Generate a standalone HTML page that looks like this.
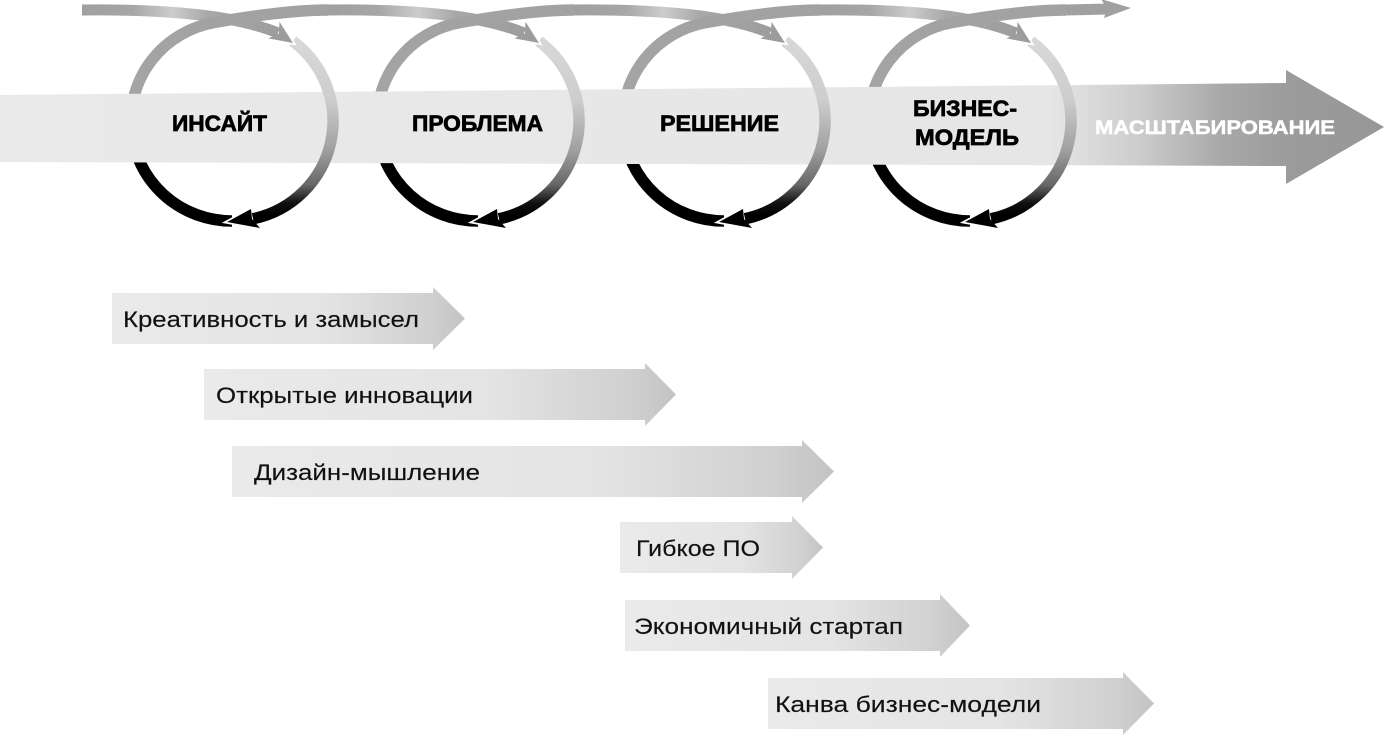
<!DOCTYPE html>
<html>
<head>
<meta charset="utf-8">
<style>
  html,body{margin:0;padding:0;background:#fff;}
  svg{display:block;}
  .lbl{font-family:"Liberation Sans","DejaVu Sans",sans-serif;font-weight:bold;fill:#000;stroke:#000;stroke-width:0.7px;}
  .lblw{font-family:"Liberation Sans","DejaVu Sans",sans-serif;font-weight:bold;fill:#fff;stroke:#fff;stroke-width:0.5px;}
  .sub{font-family:"Liberation Sans","DejaVu Sans",sans-serif;fill:#111;stroke:#111;stroke-width:0.15px;}
</style>
</head>
<body>
<svg width="1385" height="737" viewBox="0 0 1385 737" xmlns="http://www.w3.org/2000/svg" xmlns:xlink="http://www.w3.org/1999/xlink">
  <defs>
    <linearGradient id="gL" gradientUnits="userSpaceOnUse" x1="0" y1="0" x2="0" y2="230">
      <stop offset="0" stop-color="#a2a2a2"/>
      <stop offset="0.413" stop-color="#a4a4a4"/>
      <stop offset="0.696" stop-color="#000"/>
      <stop offset="1" stop-color="#000"/>
    </linearGradient>
    <linearGradient id="gD" gradientUnits="userSpaceOnUse" x1="-150" y1="0" x2="50" y2="0">
      <stop offset="0" stop-color="#a0a0a0"/>
      <stop offset="0.25" stop-color="#a6a6a6"/>
      <stop offset="0.45" stop-color="#cccccc"/>
      <stop offset="0.63" stop-color="#a8a8a8"/>
      <stop offset="1" stop-color="#9c9c9c"/>
    </linearGradient>
    <linearGradient id="gR" gradientUnits="userSpaceOnUse" x1="0" y1="40" x2="0" y2="215">
      <stop offset="0" stop-color="#d8d8d8"/>
      <stop offset="0.343" stop-color="#cdcdcd"/>
      <stop offset="0.629" stop-color="#a0a0a0"/>
      <stop offset="0.829" stop-color="#666"/>
      <stop offset="0.931" stop-color="#111"/>
      <stop offset="1" stop-color="#000"/>
    </linearGradient>
    <linearGradient id="gBand" gradientUnits="userSpaceOnUse" x1="0" y1="0" x2="1385" y2="0">
      <stop offset="0" stop-color="#e9e9e9"/>
      <stop offset="0.758" stop-color="#e6e6e6"/>
      <stop offset="0.823" stop-color="#cccccc"/>
      <stop offset="0.881" stop-color="#a9a9a9"/>
      <stop offset="0.931" stop-color="#9b9b9b"/>
      <stop offset="1" stop-color="#979797"/>
    </linearGradient>
    <linearGradient id="gArr" x1="0" y1="0" x2="1" y2="0">
      <stop offset="0" stop-color="#eaeaea"/>
      <stop offset="0.6" stop-color="#e4e4e4"/>
      <stop offset="0.9" stop-color="#d0d0d0"/>
      <stop offset="1" stop-color="#c3c3c3"/>
    </linearGradient>

    <g id="back">
      <path d="M -150,10 C -60,9 5,16 46,33" fill="none" stroke="url(#gD)" stroke-width="11"/>
      <path d="M 0,221 A 101 100 0 0 1 -17.5,22.5 C 30,14.2 70,10 96,10" fill="none" stroke="url(#gL)" stroke-width="11.5"/>
    </g>
    <g id="front">
      <path d="M 60.8,41.1 A 101 100 0 0 1 21,218.8" fill="none" stroke="url(#gR)" stroke-width="11.5"/>
      <polyline points="47.5,21.8 61,43 36.3,38.4" fill="none" stroke="#fff" stroke-width="3.5" stroke-linejoin="miter"/>
      <polygon points="61,43 47.5,21.8 46.9,33.5 36.3,38.4" fill="#9c9c9c"/>
      <polyline points="19,209 -5,222 28,228" fill="none" stroke="#fff" stroke-width="3.5" stroke-linejoin="miter"/>
      <polygon points="-5,222 19,209 20,219 28,228" fill="#000"/>
    </g>
  </defs>

  <rect x="0" y="0" width="1385" height="737" fill="#fff"/>

  <use href="#back" xlink:href="#back" x="232" y="0"/>
  <use href="#back" xlink:href="#back" x="478" y="0"/>
  <use href="#back" xlink:href="#back" x="724" y="0"/>
  <use href="#back" xlink:href="#back" x="970" y="0"/>

  <path d="M 1066,10 L 1108,9" fill="none" stroke="#a0a0a0" stroke-width="11"/>
  <polygon points="1131,8 1101,-1 1107,8.5 1104,18" fill="#a0a0a0"/>

  <polygon points="0,95 1286,83 1286,70 1384,127 1286,184 1286,166 0,162" fill="url(#gBand)"/>

  <use href="#front" xlink:href="#front" x="232" y="0"/>
  <use href="#front" xlink:href="#front" x="478" y="0"/>
  <use href="#front" xlink:href="#front" x="724" y="0"/>
  <use href="#front" xlink:href="#front" x="970" y="0"/>

  <text class="lbl" x="172" y="131" font-size="22" textLength="95" lengthAdjust="spacingAndGlyphs">ИНСАЙТ</text>
  <text class="lbl" x="412" y="131" font-size="22" textLength="131" lengthAdjust="spacingAndGlyphs">ПРОБЛЕМА</text>
  <text class="lbl" x="660" y="131" font-size="22" textLength="119" lengthAdjust="spacingAndGlyphs">РЕШЕНИЕ</text>
  <text class="lbl" x="913" y="116" font-size="22" textLength="104" lengthAdjust="spacingAndGlyphs">БИЗНЕС-</text>
  <text class="lbl" x="915" y="145" font-size="22" textLength="104" lengthAdjust="spacingAndGlyphs">МОДЕЛЬ</text>
  <text class="lblw" x="1095" y="134" font-size="19.5" textLength="240" lengthAdjust="spacingAndGlyphs">МАСШТАБИРОВАНИЕ</text>

  <polygon points="112,293 433,293 433,287 465,318.5 433,350 433,344 112,344" fill="url(#gArr)"/>
  <text class="sub" x="123" y="327" font-size="22" textLength="296" lengthAdjust="spacingAndGlyphs">Креативность и замысел</text>

  <polygon points="204,369 645,369 645,363 676,394.5 645,426 645,420 204,420" fill="url(#gArr)"/>
  <text class="sub" x="216" y="403" font-size="22" textLength="257" lengthAdjust="spacingAndGlyphs">Открытые инновации</text>

  <polygon points="232,446 802,446 802,440 834,471.5 802,503 802,497 232,497" fill="url(#gArr)"/>
  <text class="sub" x="254" y="480" font-size="22" textLength="226" lengthAdjust="spacingAndGlyphs">Дизайн-мышление</text>

  <polygon points="620,522 792,522 792,516 823,547.5 792,579 792,573 620,573" fill="url(#gArr)"/>
  <text class="sub" x="636" y="556" font-size="22" textLength="124" lengthAdjust="spacingAndGlyphs">Гибкое ПО</text>

  <polygon points="625,600 940,600 940,594 970,625.5 940,657 940,651 625,651" fill="url(#gArr)"/>
  <text class="sub" x="634" y="634" font-size="22" textLength="269" lengthAdjust="spacingAndGlyphs">Экономичный стартап</text>

  <polygon points="768,678 1123,678 1123,672 1154,703.5 1123,735 1123,729 768,729" fill="url(#gArr)"/>
  <text class="sub" x="775" y="712" font-size="22" textLength="266" lengthAdjust="spacingAndGlyphs">Канва бизнес-модели</text>
</svg>
</body>
</html>
